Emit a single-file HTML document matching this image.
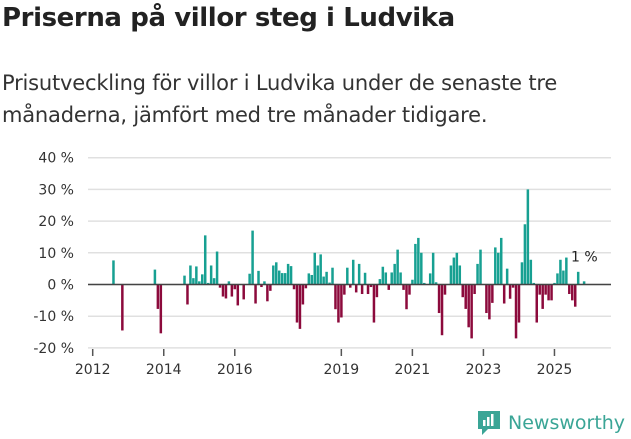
<!DOCTYPE html>
<html><head><meta charset="utf-8"><style>
body{margin:0;width:631px;height:439px;background:#fff;font-family:"DejaVu Sans","Liberation Sans",sans-serif;overflow:hidden;position:relative;color:#222}
h1{position:absolute;left:2px;top:3px;margin:0;font-size:26px;font-weight:bold;letter-spacing:-0.4px;white-space:nowrap}
.sub{position:absolute;left:2px;top:67px;margin:0;font-size:21px;line-height:32px;width:630px;color:#333;letter-spacing:-0.2px}
svg{position:absolute;left:0;top:0}
</style></head><body>
<h1>Priserna på villor steg i Ludvika</h1>
<p class="sub">Prisutveckling för villor i Ludvika under de senaste tre<br>månaderna, jämfört med tre månader tidigare.</p>
<svg width="631" height="439" id="chart"></svg>
<div style="position:absolute;left:476px;top:410px;height:26px;display:flex;align-items:center">
<svg width="26" height="28" style="position:relative"><path d="M2 2h22v18H12l-6 6v-6H2z" fill="#3aa596"/><rect x="7" y="11" width="2.5" height="6" fill="#fff"/><rect x="11" y="8" width="2.5" height="9" fill="#fff"/><rect x="15" y="5" width="2.5" height="12" fill="#fff"/></svg>
<span style="font-size:19px;color:#3aa596;margin-left:6px;font-family:'DejaVu Sans',sans-serif">Newsworthy</span></div>
<script>
const yTicks=[40,30,20,10,0,-10,-20];
const yTickLabels=["40 %","30 %","20 %","10 %","0 %","-10 %","-20 %"];
const xTickYears=[2012,2014,2016,2019,2021,2023,2025];
const startYear=2012;
const values=[null,null,null,null,null,null,null,7.6,null,null,-14.5,null,null,null,null,null,null,null,null,null,null,4.7,-7.7,-15.4,null,null,null,null,null,null,null,2.8,-6.3,6,2,5.7,1,3.2,15.5,0.5,6,2,10.4,-1,-3.8,-4.4,1,-3.8,-1.5,-6.6,null,-4.7,null,3.4,17,-6,4.3,-0.8,1,-5.3,-2,6,7,4.4,3.6,3.6,6.5,5.8,-1.5,-12,-14,-6.3,-1.2,3.5,3,10,6,9.5,2.5,4,0.6,5.3,-7.8,-12,-10.4,-3.2,5.3,-1,7.8,-2.5,6.5,-3,3.7,-3,-0.8,-12,-4,1.7,5.6,3.8,-1.7,3.8,6.5,11,3.8,-1.7,-7.8,-3.2,1.5,12.8,14.7,10,0.5,null,3.5,10,0.7,-9,-16,-3.2,null,6,8.5,10,6,-4,-7.7,-13.5,-17,-3,6.5,11,null,-9,-11,-5.8,11.7,10,14.7,-6,5,-4.5,-1,-17,-12,7,19,30,7.8,0.5,-12,-3.2,-7.7,-3.2,-5,-5,0.5,3.5,7.8,4.4,8.5,-3,-5,-7,4,null,1];
const lastLabel="1 %";
const svg=document.getElementById('chart');const NS='http://www.w3.org/2000/svg';
function y(v){return 284.5-v*3.17;}
function x(m){return 92.7+m*2.96;}
function mk(t,a){const e=document.createElementNS(NS,t);for(const k in a)e.setAttribute(k,a[k]);svg.appendChild(e);return e;}
yTicks.forEach((t,i)=>{
 const l=mk('line',{x1:88,x2:611,y1:y(t),y2:y(t),stroke:'#e0e0e0','stroke-width':1.5});
 
 
 const tx=mk('text',{x:74,y:y(t)+5,'text-anchor':'end','font-size':14,fill:'#333','font-family':'DejaVu Sans, sans-serif'});
 tx.textContent=yTickLabels[i];
 
 
});
values.forEach((v,m)=>{
 if(v===null)return;
 const r=mk('rect',{x:x(m)-1.2,width:2.5,y:Math.min(y(v),y(0)),height:Math.abs(y(v)-y(0)),fill:v>=0?'#17a092':'#8c0a3c'});
 
 
});
const z=mk('line',{x1:88,x2:611,y1:y(0),y2:y(0),stroke:'#444','stroke-width':1.5});


xTickYears.forEach(yr=>{
 const px=x((yr-startYear)*12);
 const t=mk('line',{x1:px,x2:px,y1:349,y2:356,stroke:'#555','stroke-width':1.5});
 
 
 const tx=mk('text',{x:px,y:374,'text-anchor':'middle','font-size':14,fill:'#333','font-family':'DejaVu Sans, sans-serif'});
 tx.textContent=yr;
 
 
});
const li=values.length-1;
const lb=mk('text',{x:x(li)-13,y:y(values[li])-20,'font-size':14,fill:'#222','font-family':'DejaVu Sans, sans-serif'});
lb.textContent=lastLabel;


</script>
</body></html>
